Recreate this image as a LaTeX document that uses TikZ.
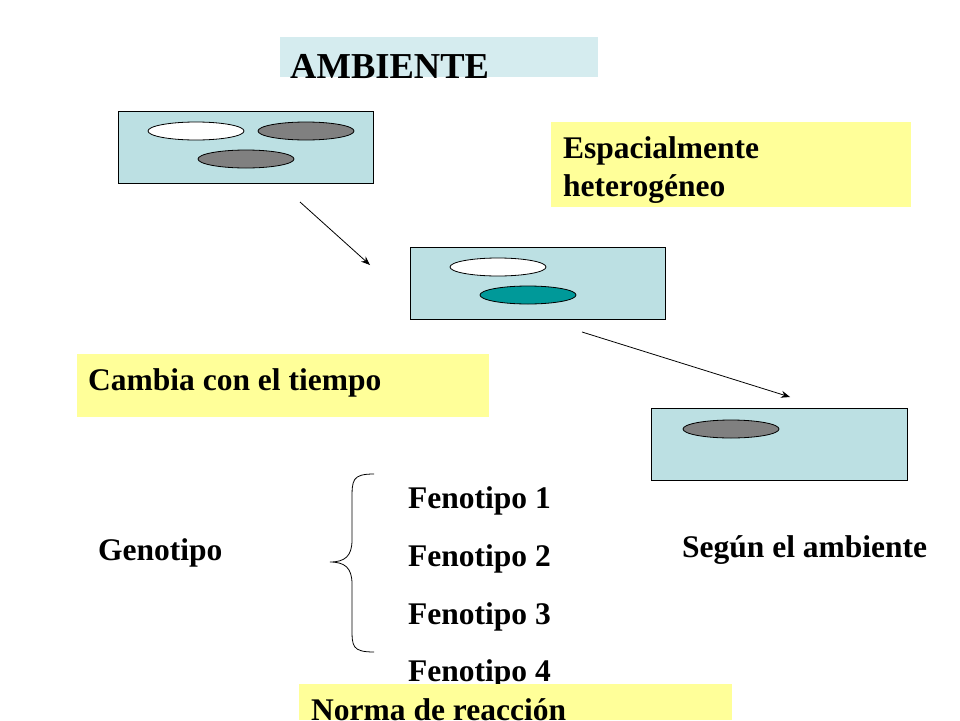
\documentclass[tikz,border=0pt]{standalone}
\usepackage{fontspec}
\setmainfont{Liberation Serif}
\usetikzlibrary{arrows.meta}
\definecolor{envbox}{HTML}{BCE0E3}
\definecolor{titlebox}{HTML}{D5ECEF}
\definecolor{ylw}{HTML}{FFFF99}
\definecolor{tealc}{HTML}{009999}
\definecolor{grayc}{HTML}{808080}
\tikzset{
  env/.style={draw=black, fill=envbox, line width=0.8pt},
  note/.style={fill=ylw},
  lbl/.style={anchor=base west, inner sep=0pt, font=\fontsize{31.5}{36}\selectfont\bfseries},
  blob/.style={draw=black, line width=0.8pt},
  arr/.style={-{Stealth[length=9pt,width=7pt]}, line width=0.8pt}
}
\begin{document}
\begin{tikzpicture}[x=1pt,y=-1pt]
\useasboundingbox (0,0) rectangle (960,720);
\clip (0,0) rectangle (960,720);
\fill[titlebox] (280,37) rectangle (598,77);
\node[lbl, font=\fontsize{36.5}{40}\selectfont\bfseries] (amb) at (290,78) {AMBIENTE};
% box 1
\draw[env] (118,111) rectangle (373,183);
\draw[blob, fill=white] (196,131) ellipse (48 and 9);
\draw[blob, fill=grayc] (306,131) ellipse (48 and 9);
\draw[blob, fill=grayc] (246,159) ellipse (48 and 9);
\fill[note] (551,122) rectangle (911,207);
\node[lbl] (esp) at (563,158) {Espacialmente};
\node[lbl] (het) at (563,196) {heterogéneo};
\coordinate (a1s) at (300,202); \coordinate (a1e) at (370,265);
\draw[arr] (a1s) -- (a1e);
% box 2
\draw[env] (410,247) rectangle (665,319);
\draw[blob, fill=white] (498,267) ellipse (48 and 9);
\draw[blob, fill=tealc] (528,295) ellipse (48 and 9);
\coordinate (a2s) at (582,332); \coordinate (a2e) at (790,397);
\draw[arr] (a2s) -- (a2e);
\fill[note] (77,354) rectangle (489,417);
\node[lbl] (cam) at (88,390) {Cambia con el tiempo};
% box 3
\draw[env] (651,408) rectangle (907,480);
\draw[blob, fill=grayc] (731,429) ellipse (48 and 9);
% genotipo
\node[lbl] (gen) at (98,560) {Genotipo};
\draw[line width=0.8pt] (374,474) .. controls (352,474) and (352,480) .. (352,500)
  -- (352,540) .. controls (352,556) and (345,562) .. (330,562)
  .. controls (345,562) and (352,568) .. (352,584) -- (352,628)
  .. controls (352,646) and (352,652) .. (374,652);
\node[lbl] (f1) at (408,508) {Fenotipo 1};
\node[lbl] (f2) at (408,566) {Fenotipo 2};
\node[lbl] (f3) at (408,624) {Fenotipo 3};
\node[lbl] (f4) at (408,681) {Fenotipo 4};
\node[lbl] (seg) at (682,557) {Según el ambiente};
\fill[note] (299,684) rectangle (732,720);
\node[lbl] (nor) at (311,720) {Norma de reacción};
\end{tikzpicture}
\end{document}
